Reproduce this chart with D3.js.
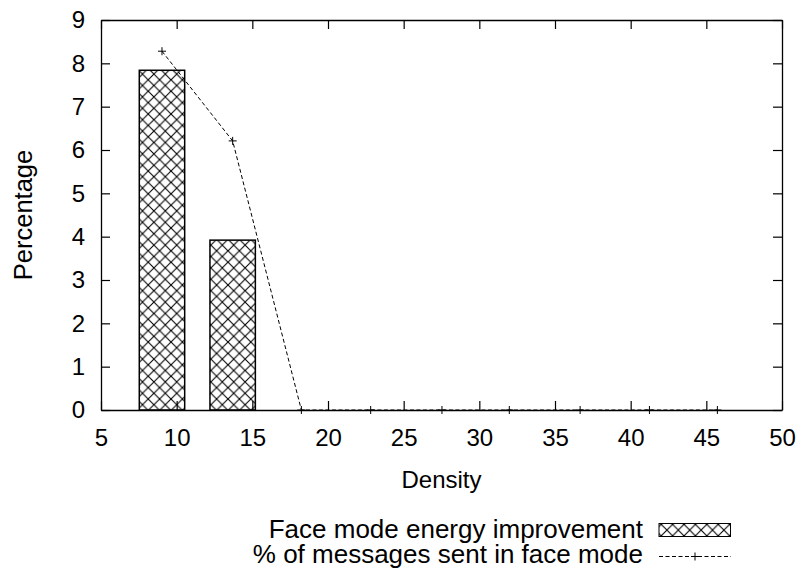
<!DOCTYPE html>
<html>
<head>
<meta charset="utf-8">
<script src="https://cdn.jsdelivr.net/npm/d3@7"></script>
<style>
  body { margin: 0; background: #fff; }
  text { font-family: "Liberation Sans", Arial, Helvetica, sans-serif; fill: #000; }
</style>
</head>
<body>
<div id="chart"></div>
<script>
// densities where the simulation was run
const density = [9.03, 13.7, 18.24, 22.82, 27.53, 31.98, 36.66, 41.24, 45.73];
// face mode energy improvement (%)
const energyImprovement = [7.84, 3.92, 0, 0, 0, 0, 0, 0, 0];
// % of messages sent in face mode
const faceMessages = [8.28, 6.21, 0, 0, 0, 0, 0, 0, 0];
const xTicks = [5, 10, 15, 20, 25, 30, 35, 40, 45, 50];
const yTicks = [0, 1, 2, 3, 4, 5, 6, 7, 8, 9];
const barWidthUnits = 3;

const width = 804, height = 572;
const margin = { top: 20, right: 22, bottom: 162, left: 101 };

const svg = d3.select('#chart').append('svg')
    .attr('width', width)
    .attr('height', height);

const x = d3.scaleLinear().domain([5, 50]).range([margin.left, width - margin.right]);
const y = d3.scaleLinear().domain([0, 9]).range([height - margin.bottom, margin.top]);

// crosshatch fill
const pat = svg.append('defs').append('pattern')
    .attr('id', 'hatch')
    .attr('patternUnits', 'userSpaceOnUse')
    .attr('width', 11.4)
    .attr('height', 11.4);
pat.append('rect').attr('width', 11.4).attr('height', 11.4).attr('fill', '#fff');
pat.append('path')
    .attr('d', 'M0,0L11.4,11.4M11.4,0L0,11.4')
    .attr('stroke', '#000')
    .attr('stroke-width', 1.1);

const data = density.map((d, i) => ({ x: d, bar: energyImprovement[i], line: faceMessages[i] }));

// bars
svg.selectAll('rect.bar')
    .data(data.filter(d => d.bar > 0))
    .enter().append('rect')
    .attr('class', 'bar')
    .attr('x', d => x(d.x - barWidthUnits / 2))
    .attr('width', d => x(d.x + barWidthUnits / 2) - x(d.x - barWidthUnits / 2))
    .attr('y', d => y(d.bar))
    .attr('height', d => y(0) - y(d.bar))
    .attr('fill', 'url(#hatch)')
    .attr('stroke', '#000')
    .attr('stroke-width', 1.5);

// dashed line
const line = d3.line().x(d => x(d.x)).y(d => y(d.line));
svg.append('path')
    .datum(data)
    .attr('d', line)
    .attr('fill', 'none')
    .attr('stroke', '#000')
    .attr('stroke-width', 1)
    .attr('stroke-dasharray', '4,2.5');

const plus = (sel, px, py) => {
    sel.append('path')
        .attr('d', `M${px - 4},${py}H${px + 4}M${px},${py - 4}V${py + 4}`)
        .attr('stroke', '#000')
        .attr('stroke-width', 1);
};
data.forEach(d => plus(svg, x(d.x), y(d.line)));

// axes with inward ticks, mirrored on top and right
const tickLen = 9;
svg.append('g')
    .attr('transform', `translate(0,${y(0)})`)
    .call(d3.axisBottom(x).tickValues(xTicks).tickSizeInner(-tickLen).tickSizeOuter(0).tickPadding(19))
    .call(g => g.selectAll('text').attr('font-size', 24).attr('fill', '#000'));
svg.append('g')
    .attr('transform', `translate(0,${y(9)})`)
    .call(d3.axisTop(x).tickValues(xTicks).tickSizeInner(-tickLen).tickSizeOuter(0).tickFormat(''));
svg.append('g')
    .attr('transform', `translate(${x(5)},0)`)
    .call(d3.axisLeft(y).tickValues(yTicks).tickSizeInner(-tickLen).tickSizeOuter(0).tickPadding(16))
    .call(g => g.selectAll('text').attr('font-size', 24).attr('fill', '#000'));
svg.append('g')
    .attr('transform', `translate(${x(50)},0)`)
    .call(d3.axisRight(y).tickValues(yTicks).tickSizeInner(-tickLen).tickSizeOuter(0).tickFormat(''));
svg.selectAll('.domain').attr('stroke', '#000').attr('stroke-width', 1.3);
svg.selectAll('.tick line').attr('stroke', '#000').attr('stroke-width', 1.2);

// axis titles
svg.append('text')
    .attr('x', (x(5) + x(50)) / 2)
    .attr('y', 488)
    .attr('text-anchor', 'middle')
    .attr('font-size', 24)
    .text('Density');
svg.append('text')
    .attr('transform', `translate(31.5,${(y(0) + y(9)) / 2}) rotate(-90)`)
    .attr('text-anchor', 'middle')
    .attr('font-size', 25.5)
    .text('Percentage');

// legend
const legend = svg.append('g');
legend.append('text')
    .attr('x', 643).attr('y', 538)
    .attr('text-anchor', 'end').attr('font-size', 26)
    .text('Face mode energy improvement');
legend.append('rect')
    .attr('x', 659).attr('y', 523.5).attr('width', 71.5).attr('height', 13)
    .attr('fill', 'url(#hatch)').attr('stroke', '#000').attr('stroke-width', 1);
legend.append('text')
    .attr('x', 643).attr('y', 563)
    .attr('text-anchor', 'end').attr('font-size', 26)
    .text('% of messages sent in face mode');
legend.append('path')
    .attr('d', 'M659,556.5H731')
    .attr('stroke', '#000').attr('stroke-width', 1).attr('stroke-dasharray', '4,2.5');
plus(legend, 695, 556.5);
</script>
</body>
</html>
